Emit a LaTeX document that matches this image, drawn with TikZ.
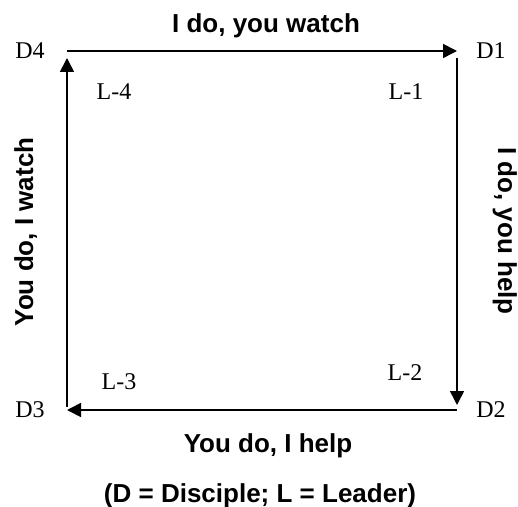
\documentclass[tikz,border=0pt]{standalone}
\usepackage{fontspec}
\setmainfont{Liberation Serif}
\setsansfont{Liberation Sans}
\usetikzlibrary{arrows.meta,positioning}
\tikzset{
  flow/.style   = {-{Triangle[length=14pt,width=14pt]}, line width=1.6pt},
  corner/.style = {font=\fontsize{24}{28}\selectfont, inner sep=0pt},
  phase/.style  = {font=\fontsize{26}{30}\selectfont\sffamily\bfseries, inner sep=0pt, anchor=base},
}

\begin{document}
\begin{tikzpicture}[x=1pt,y=1pt]
  \useasboundingbox (0,0) rectangle (518,506);
  % corners of the square
  \coordinate (c4) at (67,455);
  \coordinate (c1) at (457,455);
  \coordinate (c2) at (457,96);
  \coordinate (c3) at (67,96);
  % disciple stages at the corners
  \node[corner] (D4) at (30,455) {D4};
  \node[corner] (D1) at (491,455) {D1};
  \node[corner] (D2) at (491,96) {D2};
  \node[corner] (D3) at (30,96) {D3};
  % leader stages inside the square
  \node[corner] (L4) at (114,414) {L-4};
  \node[corner] (L1) at (406,414) {L-1};
  \node[corner] (L2) at (405,133) {L-2};
  \node[corner] (L3) at (119,124) {L-3};
  % the cycle, clockwise
  \draw[flow] (c4) -- (c1);
  \draw[flow, shorten <=7pt, shorten >=5pt] (c1) -- (c2);
  \draw[flow] (c2) -- (c3);
  \draw[flow, shorten <=3pt, shorten >=7pt] (c3) -- (c4);
  % what happens on each side
  \node[phase] (watch) at (266,473) {I do, you watch};
  \node[phase, rotate=-90] (help) at (498,275) {I do, you help};
  \node[phase] (doing) at (268,54) {You do, I help};
  \node[phase, rotate=90] (alone) at (33,274) {You do, I watch};
  \node[phase] (key) at (260,4) {(D = Disciple; L = Leader)};
\end{tikzpicture}
\end{document}
